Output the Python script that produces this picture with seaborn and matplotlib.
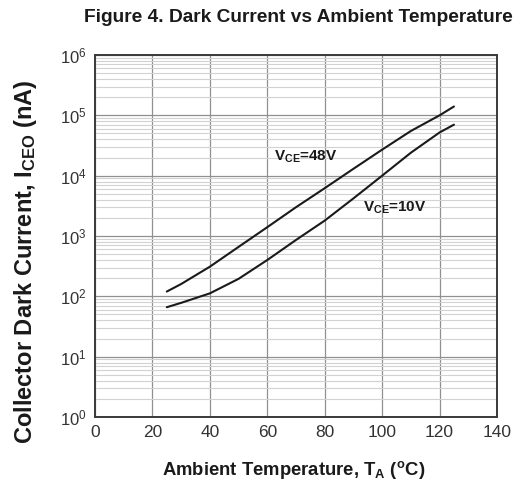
import matplotlib
matplotlib.use("Agg")
import matplotlib.pyplot as plt
import seaborn as sns
import pandas as pd
import numpy as np

# ---- data ----
temp = [25, 30, 40, 50, 60, 70, 80, 90, 100, 110, 120, 125]
i_48v = [120, 160, 310, 660, 1400, 3000, 6200, 13000, 27000, 55000, 100000, 140000]
i_10v = [66, 78, 112, 195, 400, 860, 1800, 4200, 10000, 24000, 52000, 70000]
series_names = ["V_CE=48V", "V_CE=10V"]
x_ticks = [0, 20, 40, 60, 80, 100, 120, 140]
y_exponents = [0, 1, 2, 3, 4, 5, 6]

df = pd.concat([
    pd.DataFrame({"T": temp, "I": i_48v, "series": series_names[0]}),
    pd.DataFrame({"T": temp, "I": i_10v, "series": series_names[1]}),
])

sns.set_theme(style="white")
plt.rcParams["font.family"] = ["Liberation Sans", "DejaVu Sans"]
plt.rcParams["mathtext.fontset"] = "custom"
plt.rcParams["mathtext.rm"] = "Liberation Sans"
plt.rcParams["mathtext.it"] = "Liberation Sans"
plt.rcParams["mathtext.bf"] = "Liberation Sans:bold"

fig = plt.figure(figsize=(5.18, 4.88), dpi=100)
ax = fig.add_axes([95/518, 1-417/488, (497-95)/518, (417-55)/488])

sns.lineplot(data=df, x="T", y="I", hue="series", palette=["#1a1a1a", "#1a1a1a"],
             legend=False, ax=ax, linewidth=1.5, zorder=3, estimator=None)

ax.set_yscale("log")
ax.set_xlim(0, 140)
ax.set_ylim(1, 1e6)
ax.set_axisbelow(True)

ax.set_xticks(x_ticks)
ax.set_xticklabels([str(v) for v in x_ticks], fontsize=12.5, color="#333333")
ax.set_yticks([10.0**e for e in y_exponents])
ax.set_yticklabels([r"$\mathregular{10^{%d}}$" % e for e in y_exponents], fontsize=12, color="#333333")
ax.yaxis.set_minor_locator(matplotlib.ticker.LogLocator(base=10, subs=np.arange(2, 10)))
ax.yaxis.set_minor_formatter(matplotlib.ticker.NullFormatter())
ax.tick_params(axis="both", which="both", length=0, pad=6)

ax.grid(True, which="major", axis="both", color="#909090", linewidth=0.9)
ax.grid(True, which="minor", axis="y", color="#d2d2d2", linewidth=0.8)
for s in ax.spines.values():
    s.set_color("#3a3a3a")
    s.set_linewidth(1.4)

ax.set_xlabel("")
ax.set_ylabel("")
fig.text(294/518, 1-470/488, r"Ambient Temperature, T$_\mathbf{A}$ ($^\mathbf{o}$C)",
         fontsize=13.3, fontweight="bold", ha="center", va="center", color="#1a1a1a")
fig.text(26/518, 1-262/488, r"Collector Dark Current, I$_\mathbf{CEO}$ (nA)",
         fontsize=17, fontweight="bold", ha="center", va="center", rotation=90, color="#1a1a1a")
fig.text(298/518, 1-17/488, "Figure 4. Dark Current vs Ambient Temperature",
         fontsize=13.8, fontweight="bold", ha="center", va="center", color="#1a1a1a")

ax.text(62.5, 10**4.31, r"V$_\mathbf{CE}$=48V", fontsize=11, fontweight="bold",
        color="#1a1a1a", zorder=4, va="center")
ax.text(93.3, 10**3.47, r"V$_\mathbf{CE}$=10V", fontsize=11, fontweight="bold",
        color="#1a1a1a", zorder=4, va="center")

fig.savefig("out.png", dpi=100)
